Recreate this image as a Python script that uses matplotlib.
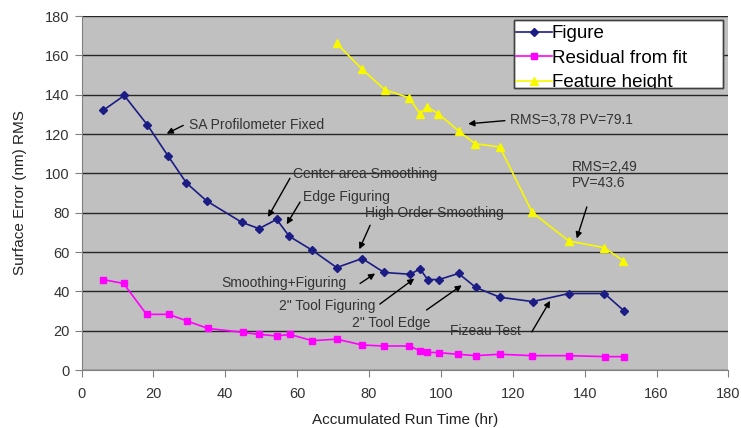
import matplotlib
matplotlib.use("Agg")
import matplotlib.pyplot as plt
from matplotlib.patches import Rectangle

plt.rcParams['font.family'] = ['Liberation Sans', 'DejaVu Sans']

fig_x = [6.0, 11.9, 18.3, 24.1, 29.2, 34.8, 44.6, 49.4, 54.3, 57.8, 64.2, 71.0, 78.1,
         84.2, 91.4, 94.2, 96.3, 99.5, 104.9, 109.7, 116.4, 125.5, 135.6, 145.5, 151.0]
fig_y = [132, 139.6, 124.7, 108.8, 95.1, 86, 75.1, 71.9, 76.6, 68, 60.9, 52.1, 56.7,
         49.6, 48.7, 51.4, 46, 46, 49.1, 42, 37, 34.8, 38.9, 38.9, 30]

res_x = [6.0, 11.7, 18.1, 24.3, 29.4, 35.1, 45.0, 49.4, 54.3, 58.0, 64.2, 71.0, 78.1,
         84.2, 91.2, 94.2, 96.2, 99.5, 104.8, 109.7, 116.4, 125.4, 135.6, 145.7, 151.0]
res_y = [46, 44, 28.3, 28.3, 24.9, 21.2, 19.1, 18.1, 17.3, 18.1, 14.9, 15.7, 12.7,
         12.2, 12.2, 9.8, 9.0, 8.8, 8.0, 7.3, 8.0, 7.3, 7.3, 6.8, 6.8]

feat_x = [71.0, 78.0, 84.4, 91.2, 94.2, 96.2, 99.3, 105.1, 109.5, 116.4, 125.4, 135.6, 145.5, 150.8]
feat_y = [166.1, 153.1, 142.5, 138.4, 130.3, 133.7, 130.3, 121.3, 115.1, 113.4, 80.2, 65.6, 62.2, 55.5]

labels = ["Figure", "Residual from fit", "Feature height"]
x_ticks = [0, 20, 40, 60, 80, 100, 120, 140, 160, 180]
y_ticks = [0, 20, 40, 60, 80, 100, 120, 140, 160, 180]

W, H = 741, 428
fig = plt.figure(figsize=(W / 100, H / 100), dpi=100)
ax = fig.add_axes([0.110, 0.1355, 0.873, 0.827])
ax.set_facecolor('#c0c0c0')
ax.set_xlim(0, 180)
ax.set_ylim(0, 180)
ax.set_xticks(x_ticks)
ax.set_yticks(y_ticks)
ax.yaxis.grid(True, color='#262626', linewidth=1.0)
ax.set_axisbelow(True)
for s in ['top', 'right']:
    ax.spines[s].set_visible(False)
for s in ['left', 'bottom']:
    ax.spines[s].set_color('#808080')
ax.tick_params(axis='both', colors='#808080', labelcolor='#333333', labelsize=10.5,
               length=5, direction='out')
ax.tick_params(axis='x', pad=7)

l1, = ax.plot(fig_x, fig_y, color='#1c1c85', marker='D', markersize=4.5, linewidth=1.2, label=labels[0])
l2, = ax.plot(res_x, res_y, color='#ff00ff', marker='s', markersize=5, linewidth=1.2, label=labels[1])
l3, = ax.plot(feat_x, feat_y, color='#f8f800', marker='^', markersize=6, linewidth=1.2, label=labels[2])

ax.set_xlabel("Accumulated Run Time (hr)", fontsize=11, color='#222222', labelpad=9)
ax.set_ylabel("Surface Error (nm) RMS", fontsize=11, color='#222222', labelpad=13)

# legend box (white frame) in figure pixel coords
box = Rectangle((514 / W, 1 - 88 / H), (723 - 514) / W, (88 - 20) / H,
                transform=fig.transFigure, facecolor='white',
                edgecolor='#404040', linewidth=1.0, zorder=5)
fig.patches.append(box)
leg = fig.legend(handles=[l1, l2, l3], loc='upper left',
                 bbox_to_anchor=(516 / W, 1 - 25 / H),
                 fontsize=13.5, frameon=False, handlelength=1.9, handletextpad=0.0,
                 borderpad=0.0, labelspacing=0.4, markerscale=0.85, borderaxespad=0)
leg.set_zorder(6)
for t in leg.get_texts():
    t.set_clip_path(box)
box_edge = Rectangle((514 / W, 1 - 88 / H), (723 - 514) / W, (88 - 20) / H,
                     transform=fig.transFigure, facecolor='none',
                     edgecolor='#404040', linewidth=1.0, zorder=7)
fig.patches.append(box_edge)

tc = '#333333'
fs = 10
def note(text, txy, head, tail, ha='left'):
    ax.text(txy[0], txy[1], text, fontsize=fs, color=tc, ha=ha, va='center')
    ax.annotate('', xy=head, xytext=tail,
                arrowprops=dict(arrowstyle='-|>', color='black', lw=1.0,
                                mutation_scale=9, shrinkA=0, shrinkB=0))

note("SA Profilometer Fixed", (30.0, 124.4), (23.7, 120.2), (28.3, 124.4))
note("Center area Smoothing", (58.9, 99.5), (51.9, 77.8), (58.0, 97.5))
note("Edge Figuring", (61.7, 88.0), (57.1, 74.1), (60.8, 85.4))
note("High Order Smoothing", (78.9, 79.8), (77.3, 61.4), (80.3, 73.6))
note("Smoothing+Figuring", (73.8, 44.3), (81.7, 49.1), (77.5, 44.0), ha='right')
note("2\" Tool Figuring", (81.7, 32.6), (92.6, 46.5), (83.0, 33.5), ha='right')
note("2\" Tool Edge", (97.0, 23.7), (105.8, 43.1), (96.0, 30.5), ha='right')
note("Fizeau Test", (102.5, 19.8), (130.4, 35.2), (125.3, 19.4))
note("RMS=3,78 PV=79.1", (119.2, 126.9), (107.6, 125.2), (117.8, 126.8))
ax.text(136.4, 99.2, "RMS=2,49\nPV=43.6", fontsize=fs, color=tc, ha='left', va='center',
        linespacing=1.15)
ax.annotate('', xy=(137.8, 66.9), xytext=(140.6, 82.9),
            arrowprops=dict(arrowstyle='-|>', color='black', lw=1.0,
                            mutation_scale=9, shrinkA=0, shrinkB=0))

fig.savefig("out.png", dpi=100)
